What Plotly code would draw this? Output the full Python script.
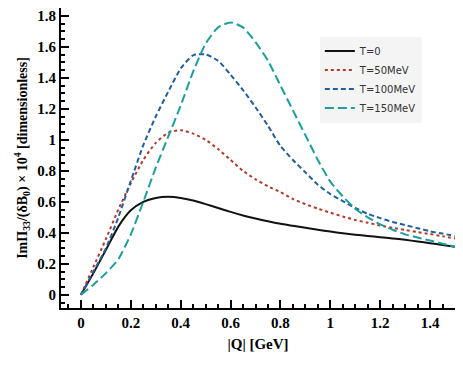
import plotly.graph_objects as go

Q = [0.0, 0.05, 0.1, 0.15, 0.2, 0.25, 0.3, 0.35, 0.4, 0.45, 0.5, 0.55, 0.6, 0.65, 0.7, 0.75,
     0.8, 0.85, 0.9, 0.95, 1.0, 1.05, 1.1, 1.15, 1.2, 1.25, 1.3, 1.35, 1.4, 1.45, 1.5]

T0 = [0.0, 0.14, 0.29, 0.44, 0.545, 0.60, 0.625, 0.632, 0.625, 0.608, 0.585, 0.560, 0.535, 0.512,
      0.492, 0.474, 0.458, 0.445, 0.432, 0.420, 0.408, 0.397, 0.388, 0.380, 0.372, 0.364, 0.355,
      0.344, 0.333, 0.322, 0.31]
T50 = [0.0, 0.18, 0.36, 0.55, 0.72, 0.87, 0.98, 1.045, 1.062, 1.04, 1.0, 0.94, 0.87, 0.80,
       0.745, 0.70, 0.662, 0.618, 0.585, 0.556, 0.53, 0.505, 0.483, 0.465, 0.447, 0.432, 0.418,
       0.405, 0.392, 0.378, 0.364]
T100 = [0.0, 0.15, 0.30, 0.50, 0.735, 0.965, 1.15, 1.31, 1.46, 1.545, 1.55, 1.51, 1.42, 1.32,
        1.21, 1.09, 0.96, 0.87, 0.79, 0.71, 0.65, 0.605, 0.56, 0.522, 0.495, 0.47, 0.45, 0.43,
        0.41, 0.395, 0.379]
T150 = [0.0, 0.065, 0.14, 0.23, 0.39, 0.60, 0.82, 1.02, 1.22, 1.44, 1.62, 1.725, 1.757, 1.725,
        1.63, 1.51, 1.35, 1.19, 1.03, 0.87, 0.73, 0.635, 0.555, 0.50, 0.455, 0.42, 0.39, 0.37,
        0.35, 0.33, 0.31]

names = ['T=0', 'T=50MeV', 'T=100MeV', 'T=150MeV']
colors = ['#111111', '#b3392b', '#1f5f9f', '#1a9e9e']
dashes = ['solid', 'dot', '5px,3px', '9px,4px']

xticks = [0, 0.2, 0.4, 0.6, 0.8, 1, 1.2, 1.4]
xlabels = ['0', '0.2', '0.4', '0.6', '0.8', '1', '1.2', '1.4']
yticks = [0, 0.2, 0.4, 0.6, 0.8, 1, 1.2, 1.4, 1.6, 1.8]
ylabels = ['0', '0.2', '0.4', '0.6', '0.8', '1', '1.2', '1.4', '1.6', '1.8']

fig = go.Figure()
for ys, n, c, d in zip([T0, T50, T100, T150], names, colors, dashes):
    fig.add_trace(go.Scatter(x=Q, y=ys, mode='lines', name=n,
                             line=dict(color=c, width=2, dash=d, shape='spline', smoothing=0.6)))

serif = 'Liberation Serif'
tickfont = dict(family=serif, size=15, color='black')
common = dict(ticks='inside', ticklen=8, tickwidth=2, tickcolor='black',
              showline=True, linewidth=2, linecolor='black', mirror=True,
              showgrid=False, zeroline=False, tickfont=tickfont, automargin=False)

# page body has an 8px margin, so the figure is shrunk to fit the window
fig.update_layout(
    width=455, height=363,
    margin=dict(l=53, r=8, t=0, b=63),
    plot_bgcolor='white', paper_bgcolor='white',
    legend=dict(x=0.657, y=0.905, xanchor='left', yanchor='top',
                bgcolor='#f4f4f4', font=dict(family='DejaVu Sans', size=10, color='#333'),
                tracegroupgap=0),
    xaxis=dict(range=[-0.08, 1.5], tickvals=xticks,
               ticktext=['<b>%s</b>' % t for t in xlabels],
               minor=dict(dtick=0.05, tick0=0, ticks='inside', ticklen=4, tickwidth=1.5, tickcolor='black'),
               title=dict(text='<b>|Q| [GeV]</b>', font=dict(family=serif, size=15, color='black'),
                          standoff=8),
               **common),
    yaxis=dict(range=[-0.085, 1.85], tickvals=yticks,
               ticktext=['<b>%s</b>' % t for t in ylabels],
               minor=dict(dtick=0.05, tick0=0, ticks='inside', ticklen=4, tickwidth=1.5, tickcolor='black'),
               title=dict(text='<b>ImΠ<sub>33</sub>/(δB<sub>0</sub>) × 10<sup>4</sup> [dimensionless]</b>',
                          font=dict(family=serif, size=14, color='black'), standoff=6),
               **common),
)

fig.write_html("out.html")
